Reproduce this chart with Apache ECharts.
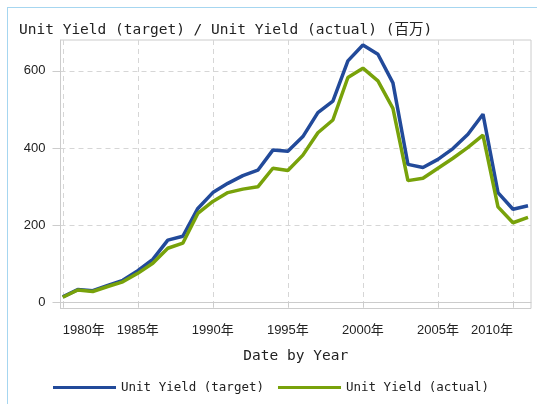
<!DOCTYPE html>
<html>
<head>
<meta charset="utf-8">
<script src="https://cdn.jsdelivr.net/npm/echarts@6/dist/echarts.min.js"></script>
<style>
	html,body{margin:0;padding:0;background:#fff;}
	#frame{position:absolute;left:7px;top:7px;width:560px;height:420px;border:1.5px solid #a6d6f0;}
	#chart{position:absolute;left:0;top:0;width:537px;height:404px;}
</style>
</head>
<body>
<div id="frame"></div>
<div id="chart"></div>
<script>
var years = [1980,1981,1982,1983,1984,1985,1986,1987,1988,1989,1990,1991,1992,1993,1994,1995,
	1996,1997,1998,1999,2000,2001,2002,2003,2004,2005,2006,2007,2008,2009,2010,2011];
var target = [15,34,31,45,58,83,112,162,172,244,285,309,329,343,395,392,
	430,492,522,626,667,643,569,358,350,371,399,436,488,285,242,251];
var actual = [14,33,29,42,54,76,102,141,154,231,262,285,294,300,348,342,
	382,440,473,583,607,574,503,316,322,348,374,402,434,248,207,221];
var xTicks = [1980,1985,1990,1995,2000,2005,2010];
var yTicks = [0,200,400,600];

var mono = "'DejaVu Sans Mono', monospace";
var sans = "'Liberation Sans', 'Noto Sans CJK SC', sans-serif";

function pairs(vals){
	var out = [];
	for(var i in years){
		out.push([years[i], vals[i]]);
	}
	return out;
}

var chart = echarts.init(document.getElementById('chart'));
chart.setOption({
	animation: false,
	title: {
		text: 'Unit Yield (target) / Unit Yield (actual) (百万)',
		left: 14,
		top: 18,
		textStyle: {fontFamily: mono + ", 'Noto Sans CJK SC'", fontSize: 14.5, fontWeight: 'normal', color: '#222'}
	},
	legend: {
		left: 48,
		top: 376,
		icon: 'rect',
		itemWidth: 63,
		itemHeight: 3,
		itemGap: 14,
		textStyle: {fontFamily: mono, fontSize: 12.5, color: '#222'},
		data: ['Unit Yield (target)', 'Unit Yield (actual)']
	},
	grid: {
		left: 60.5,
		right: 6,
		top: 40,
		bottom: 95.5,
		show: true,
		borderColor: '#cccccc',
		borderWidth: 1
	},
	xAxis: {
		type: 'value',
		min: 1979.85,
		max: 2011.2,
		name: 'Date by Year',
		nameLocation: 'middle',
		nameGap: 40,
		nameTextStyle: {fontFamily: mono, fontSize: 14.5, color: '#222'},
		axisLine: {show: true, lineStyle: {color: '#cccccc'}},
		axisTick: {show: true, length: 5, customValues: xTicks, lineStyle: {color: '#cccccc'}},
		axisLabel: {
			customValues: xTicks,
			margin: 15,
			fontFamily: sans,
			fontSize: 13,
			color: '#222',
			alignMinLabel: 'left',
			alignMaxLabel: 'right',
			formatter: function(v){ return v + '年'; }
		},
		splitLine: {show: true, lineStyle: {color: '#d6d6d6', type: [5, 4]}}
	},
	yAxis: {
		type: 'value',
		min: -15,
		max: 680,
		axisLine: {show: true, lineStyle: {color: '#cccccc'}},
		axisTick: {show: true, length: 8, customValues: yTicks, lineStyle: {color: '#cccccc'}},
		axisLabel: {customValues: yTicks, margin: 15, fontFamily: sans, fontSize: 13, color: '#222'},
		splitLine: {show: true, lineStyle: {color: '#d6d6d6', type: [5, 4]}}
	},
	series: [{
		name: 'Unit Yield (target)',
		type: 'line',
		symbol: 'none',
		color: '#224a9a',
		lineStyle: {width: 3.5},
		data: pairs(target)
	},{
		name: 'Unit Yield (actual)',
		type: 'line',
		symbol: 'none',
		color: '#78a20a',
		lineStyle: {width: 3.5},
		data: pairs(actual)
	}]
});
</script>
</body>
</html>
